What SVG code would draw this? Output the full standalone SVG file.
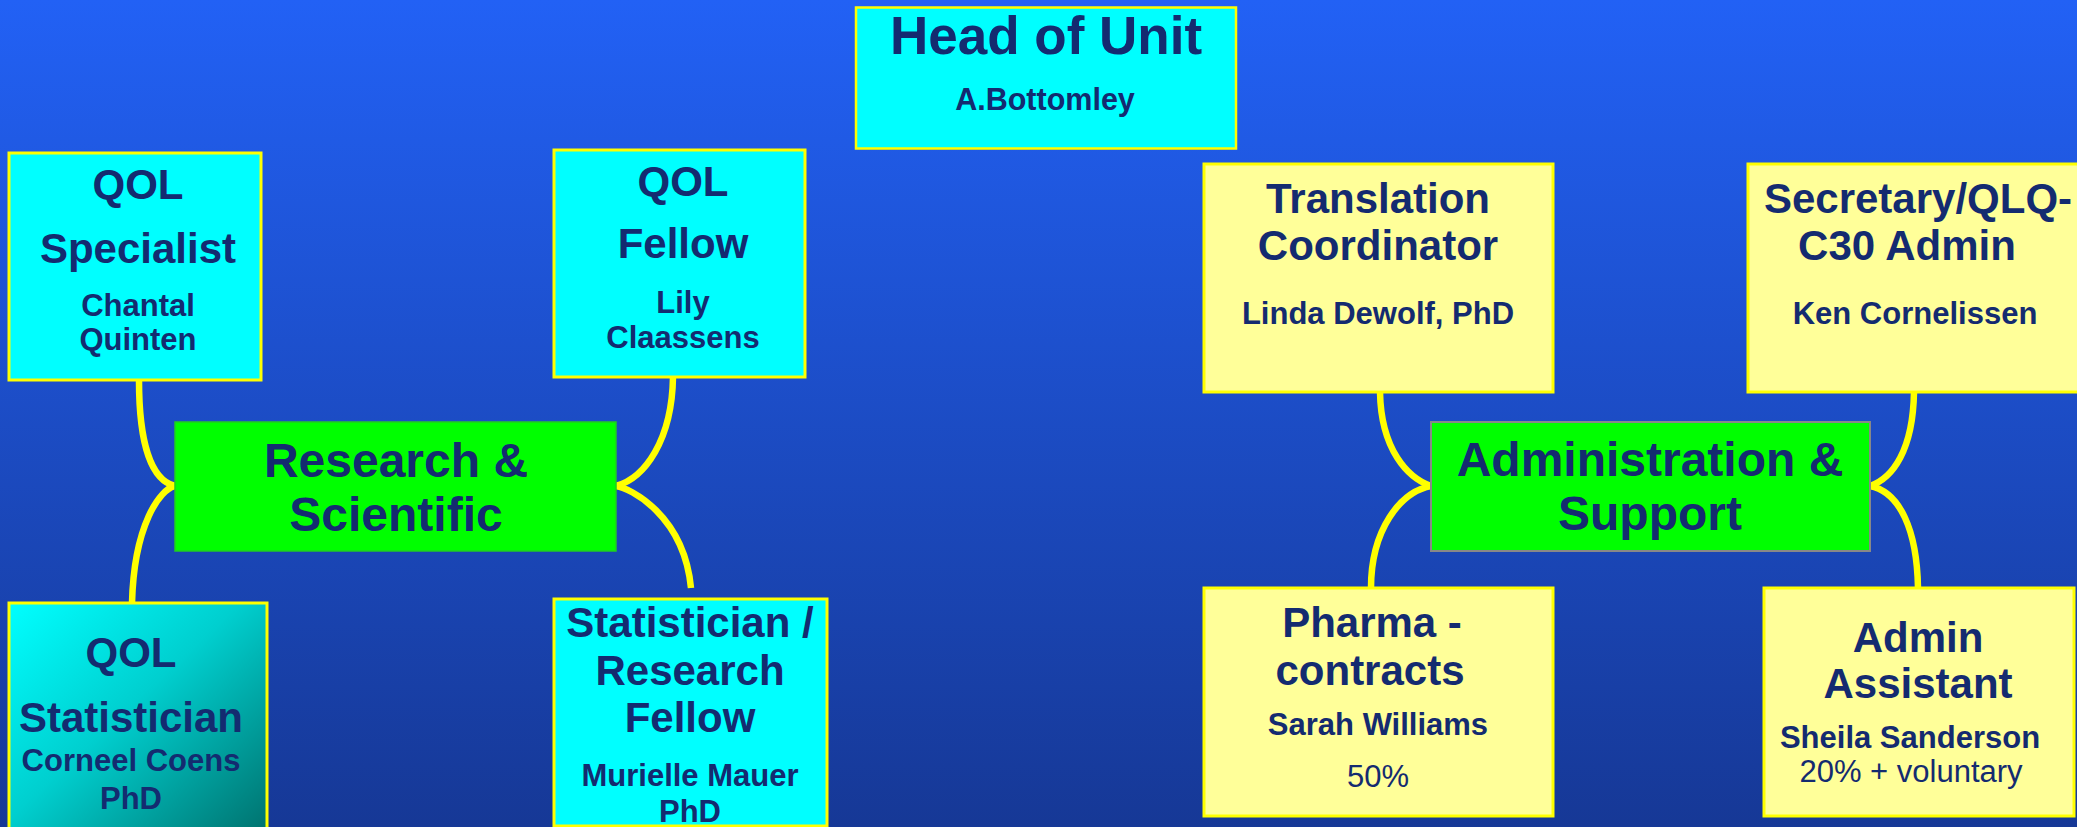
<svg xmlns="http://www.w3.org/2000/svg" width="2077" height="827" viewBox="0 0 2077 827">
<defs>
<linearGradient id="bg" x1="0" y1="0" x2="0" y2="1">
<stop offset="0" stop-color="#2261F5"/>
<stop offset="1" stop-color="#163896"/>
</linearGradient>
<linearGradient id="teal" x1="0" y1="0" x2="1" y2="1">
<stop offset="0" stop-color="#00FFFF"/>
<stop offset="0.45" stop-color="#00CFCF"/>
<stop offset="1" stop-color="#006E6A"/>
</linearGradient>
<style>
text{font-family:"Liberation Sans",Arial,sans-serif;fill:#142B70;text-anchor:middle}
.b{font-weight:bold}
.t{font-size:42px;font-weight:bold}
.n{font-size:31px;font-weight:bold}
.r{font-size:31px;font-weight:normal}
.s{font-size:48px;font-weight:bold}
.cy{fill:#00FFFF;stroke:#FFFF00;stroke-width:3}
.py{fill:#FFFF99;stroke:#FFFF00;stroke-width:3}
.gr{fill:#00FF00;stroke:#22CC22;stroke-width:1.5}
.gg{fill:#00FF00;stroke:#888888;stroke-width:2}
.c{fill:none;stroke:#FFFF00;stroke-width:6.5;stroke-linecap:butt}
</style>
</defs>
<rect x="0" y="0" width="2077" height="827" fill="url(#bg)"/>

<g id="connectors">
<path class="c" d="M175,486 C150,480 139,440 139,380"/>
<path class="c" d="M175,486 C160,489 134,525 132,603"/>
<path class="c" d="M616,486 C645,478 672,440 673,377"/>
<path class="c" d="M616,486 C630,488 684,515 691,588"/>
<path class="c" d="M1431,486 C1408,478 1381,450 1380,392"/>
<path class="c" d="M1431,486 C1400,492 1371,530 1371,588"/>
<path class="c" d="M1870,486 C1893,478 1913,450 1914,392"/>
<path class="c" d="M1870,486 C1900,492 1917,530 1918,588"/>
</g>

<g id="head-of-unit">
<rect x="856" y="7.5" width="380" height="141" fill="#00FFFF" stroke="#FFFF00" stroke-width="2.5"/>
<text x="1046" y="54" class="b" font-size="53">Head of Unit</text>
<text x="1045" y="110" class="b" font-size="30.5">A.Bottomley</text>
</g>

<g id="qol-specialist">
<rect class="cy" x="9" y="153" width="252" height="227"/>
<text x="138" y="199" class="t">QOL</text>
<text x="138" y="263" class="t">Specialist</text>
<text x="138" y="316" class="n">Chantal</text>
<text x="138" y="350" class="n">Quinten</text>
</g>

<g id="qol-fellow">
<rect class="cy" x="554" y="150" width="251" height="227"/>
<text x="683" y="196" class="t">QOL</text>
<text x="683" y="258" class="t">Fellow</text>
<text x="683" y="313" class="n">Lily</text>
<text x="683" y="348" class="n">Claassens</text>
</g>

<g id="research-scientific">
<rect class="gr" x="175" y="422" width="441" height="129"/>
<text x="396" y="477" class="s">Research &amp;</text>
<text x="396" y="531" class="s">Scientific</text>
</g>

<g id="qol-statistician">
<rect x="9" y="603" width="258" height="240" fill="url(#teal)" stroke="#FFFF00" stroke-width="3"/>
<text x="131" y="667" class="t">QOL</text>
<text x="131" y="732" class="t">Statistician</text>
<text x="131" y="771" class="n">Corneel Coens</text>
<text x="131" y="809" class="n">PhD</text>
</g>

<g id="statistician-research-fellow">
<rect class="cy" x="554" y="599" width="273" height="227"/>
<text x="690" y="637" class="t">Statistician /</text>
<text x="690" y="685" class="t">Research</text>
<text x="690" y="732" class="t">Fellow</text>
<text x="690" y="786" class="n">Murielle Mauer</text>
<text x="690" y="822" class="n">PhD</text>
</g>

<g id="translation-coordinator">
<rect class="py" x="1204" y="164" width="349" height="228"/>
<text x="1378" y="213" class="t">Translation</text>
<text x="1378" y="260" class="t">Coordinator</text>
<text x="1378" y="324" class="n">Linda Dewolf, PhD</text>
</g>

<g id="secretary">
<rect class="py" x="1748" y="164" width="340" height="228"/>
<text x="1918" y="213" class="t">Secretary/QLQ-</text>
<text x="1907" y="260" class="t">C30 Admin</text>
<text x="1915" y="324" class="n">Ken Cornelissen</text>
</g>

<g id="administration-support">
<rect class="gg" x="1431" y="422" width="439" height="129"/>
<text x="1650" y="476" class="s">Administration &amp;</text>
<text x="1650" y="530" class="s">Support</text>
</g>

<g id="pharma-contracts">
<rect class="py" x="1204" y="588" width="349" height="228"/>
<text x="1372" y="637" class="t">Pharma -</text>
<text x="1370" y="685" class="t">contracts</text>
<text x="1378" y="735" class="n">Sarah Williams</text>
<text x="1378" y="787" class="r">50%</text>
</g>

<g id="admin-assistant">
<rect class="py" x="1764" y="588" width="310" height="228"/>
<text x="1918" y="652" class="t">Admin</text>
<text x="1918" y="698" class="t">Assistant</text>
<text x="1910" y="748" class="n">Sheila Sanderson</text>
<text x="1911" y="782" class="r">20% + voluntary</text>
</g>
</svg>
